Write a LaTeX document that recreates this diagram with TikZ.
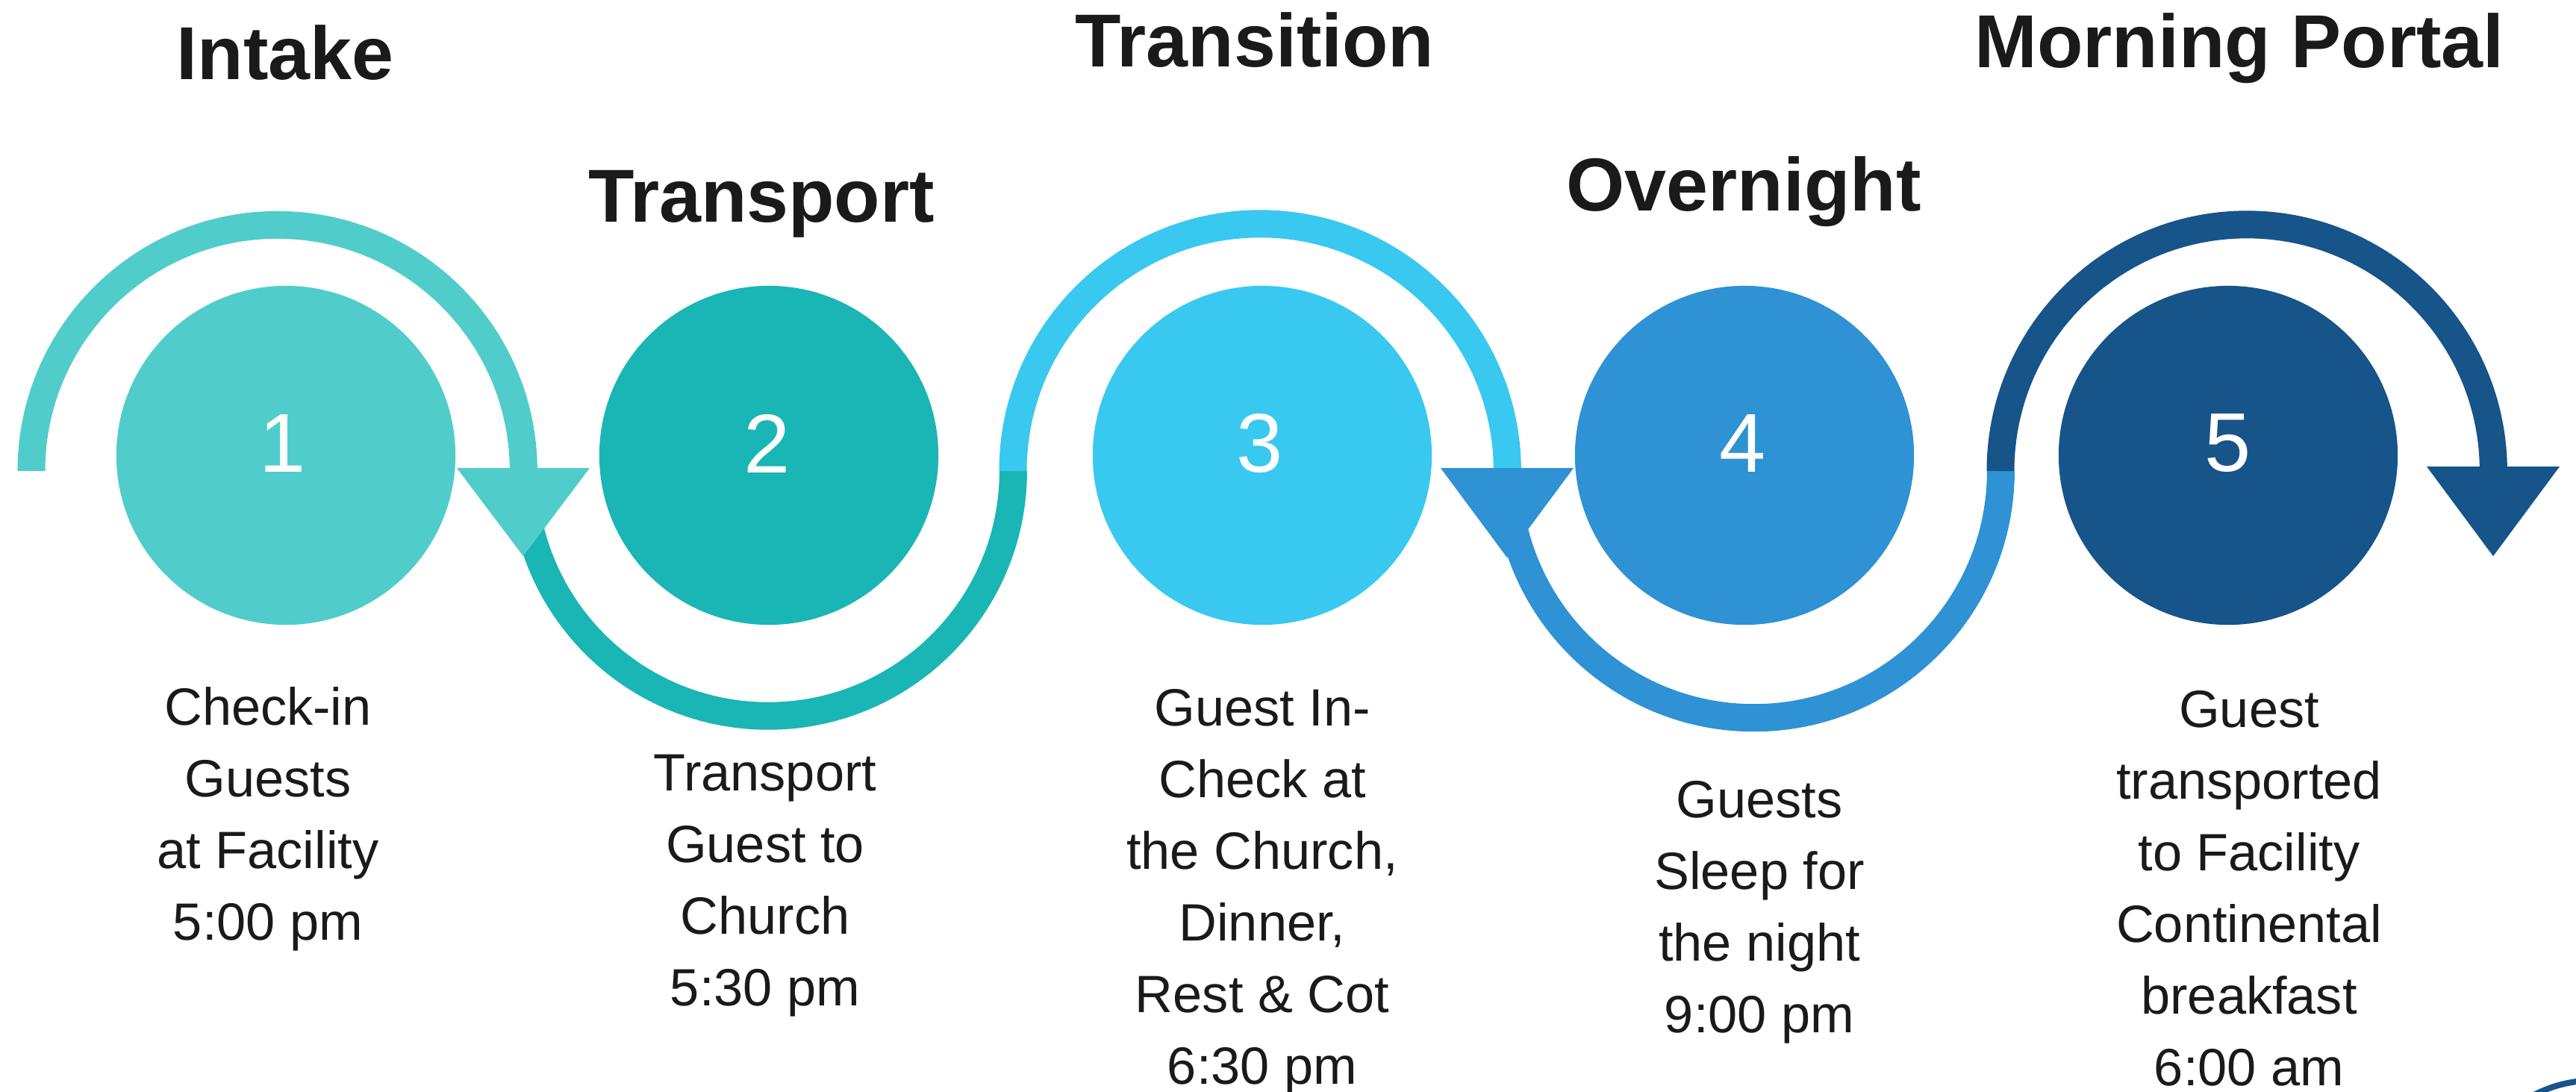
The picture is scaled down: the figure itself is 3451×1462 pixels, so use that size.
\documentclass[tikz,border=0pt]{standalone}
\usepackage{fontspec}
\setmainfont{Liberation Sans}
\definecolor{cA}{HTML}{50CDCB}
\definecolor{cB}{HTML}{1AB5B5}
\definecolor{cC}{HTML}{38C8F0}
\definecolor{cD}{HTML}{2E92D5}
\definecolor{cE}{HTML}{165489}
\definecolor{ink}{HTML}{1A1A1A}
\begin{document}
\begin{tikzpicture}[x=0.01cm,y=-0.01cm,
  band/.style={line width=0.37cm},
  disc/.style={circle,inner sep=0pt,minimum size=4.54cm},
  num/.style={text=white,font=\fontsize{31.8}{32}\selectfont,inner sep=0pt},
  head/.style={text=ink,font=\fontsize{28.6}{30}\selectfont\bfseries,inner sep=0pt,anchor=base},
  body/.style={text=ink,font=\fontsize{20}{27.3}\selectfont,align=center,inner sep=0pt,anchor=base}]
\useasboundingbox (0,0) rectangle (3451,1462);

% circles
\node[disc,fill=cA] (c1) at (383,610) {};
\node[disc,fill=cB] (c2) at (1030,610) {};
\node[disc,fill=cC] (c3) at (1691,610) {};
\node[disc,fill=cD] (c4) at (2337,610) {};
\node[disc,fill=cE] (c5) at (2985,610) {};

\node[num] (n1) at (379,594) {1};
\node[num] (n2) at (1028,594) {2};
\node[num] (n3) at (1688,594) {3};
\node[num] (n4) at (2335,594) {4};
\node[num] (n5) at (2985,594) {5};

% arc end points
\coordinate (p0) at (42,631);
\coordinate (p1) at (701,631);
\coordinate (p2) at (1357,631);
\coordinate (p3) at (2019,631);
\coordinate (p4) at (2680,631);
\coordinate (p5) at (3340,631);

% arcs
\draw[band,cA] (p0) arc[start angle=180,end angle=0,radius=3.295cm];
\draw[band,cB] (p1) arc[start angle=180,end angle=360,radius=3.28cm];
\draw[band,cC] (p2) arc[start angle=180,end angle=0,radius=3.31cm];
\draw[band,cD] (p3) arc[start angle=180,end angle=360,radius=3.305cm];
\draw[band,cE] (p4) arc[start angle=180,end angle=0,radius=3.30cm];

% arrowheads
\fill[cA] ([xshift=-0.89cm,yshift=0.04cm]p1) -- ([xshift=0.89cm,yshift=0.04cm]p1) -- ([yshift=-1.14cm]p1) -- cycle;
\fill[cD] ([xshift=-0.89cm,yshift=0.04cm]p3) -- ([xshift=0.89cm,yshift=0.04cm]p3) -- ([yshift=-1.16cm]p3) -- cycle;
\fill[cE] ([xshift=-0.89cm,yshift=0.06cm]p5) -- ([xshift=0.89cm,yshift=0.06cm]p5) -- ([yshift=-1.14cm]p5) -- cycle;

% stray edge at bottom right
\draw[cE,line width=0.08cm] (3393,1468) .. controls (3415,1456) and (3435,1451) .. (3458,1448);

% titles
\node[head] (h1) at (382,106) {Intake};
\node[head] (h2) at (1020,297) {Transport};
\node[head] (h3) at (1681,89) {Transition};
\node[head] (h4) at (2336,282) {Overnight};
\node[head] (h5) at (3000,90) {Morning Portal};

% descriptions (base anchor = baseline of the last line)
\node[body] (t1) at (359,1259) {Check-in\\Guests\\at Facility\\5:00 pm};
\node[body] (t2) at (1025,1347) {Transport\\Guest to\\Church\\5:30 pm};
\node[body] (t3) at (1691,1452) {Guest In-\\Check at\\the Church,\\Dinner,\\Rest \& Cot\\6:30 pm};
\node[body] (t4) at (2357,1383) {Guests\\Sleep for\\the night\\9:00 pm};
\node[body] (t5) at (3013,1454) {Guest\\transported\\to Facility\\Continental\\breakfast\\6:00 am};
\end{tikzpicture}
\end{document}
